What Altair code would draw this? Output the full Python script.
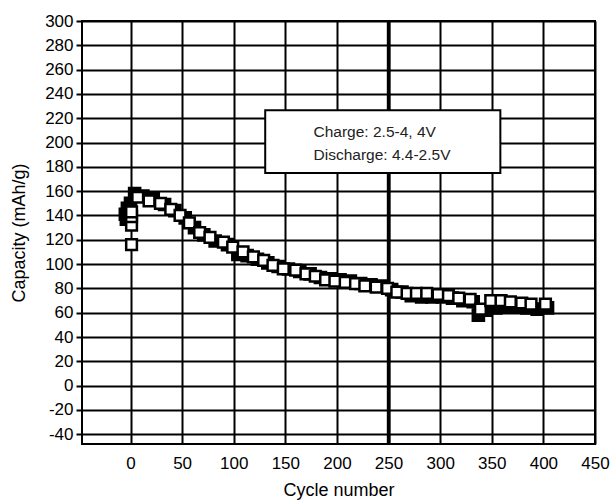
import altair as alt
import pandas as pd

# Series A (white squares)
a_cycle = [1, 1, 1, 1, 7, 18, 29, 39, 48, 57, 67, 77, 90, 99, 109, 119, 129, 138, 148, 160,
           170, 179, 189, 198, 208, 218, 227, 238, 249, 258, 268, 277, 287, 298, 308, 318,
           329, 339, 349, 359, 368, 379, 388, 402]
a_cap = [116, 132, 139, 143, 155, 152, 150, 145, 140, 134, 126, 122, 118, 114, 110, 106, 103,
         99, 96, 95, 92, 90, 87, 86, 85, 84, 82, 81, 80, 77, 76, 76, 76, 75, 74, 72, 71, 63,
         70, 70, 69, 68, 67, 67]

# Series B (dark squares underneath)
b_cycle = [-5, -4, -3, 0, 4, 12, 22, 33, 43, 53, 62, 71, 82, 94, 104, 113, 123, 133, 143, 153,
           164, 174, 184, 194, 203, 213, 223, 233, 243, 253, 263, 272, 282, 292, 302, 312, 322,
           332, 337, 344, 354, 364, 374, 384, 394, 404]
b_cap = [141, 137, 146, 150, 158, 156, 154, 149, 144, 138, 130, 124, 119, 116, 108, 107, 104,
         101, 98, 96, 94, 92, 89, 88, 87, 86, 84, 83, 82, 79, 77, 74, 73, 73, 73, 72, 70, 69,
         58, 62, 64, 65, 65, 64, 63, 64]

x_ticks = [0, 50, 100, 150, 200, 250, 300, 350, 400, 450]
y_ticks = [-40, -20, 0, 20, 40, 60, 80, 100, 120, 140, 160, 180, 200, 220, 240, 260, 280, 300]

legend_lines = ["Charge: 2.5-4, 4V", "Discharge: 4.4-2.5V"]
legend_y = [208.8, 189.6]
legend_x = [177.3, 177.3]
box = {"x1": [130.5], "x2": [358.3], "y1": [226.6], "y2": [175.0]}
bold_x = [250]

FONT = "Liberation Sans"

dfa = pd.DataFrame({"cycle": a_cycle, "cap": a_cap})
dfb = pd.DataFrame({"cycle": b_cycle, "cap": b_cap})
dft = pd.DataFrame({"x": legend_x, "y": legend_y, "t": legend_lines})
dfbox = pd.DataFrame(box)
dfr = pd.DataFrame({"x": bold_x})

xscale = alt.Scale(domain=[-47, 450], nice=False, zero=False)
yscale = alt.Scale(domain=[-48, 300], nice=False, zero=False)

minus_fix = "datum.value < 0 ? '-' + abs(datum.value) : datum.label"

xaxis = alt.Axis(values=x_ticks, title="Cycle number", grid=True, gridColor="black",
                 gridWidth=2, gridOpacity=1, ticks=False, domain=False,
                 labelFontSize=17, labelFont=FONT, labelColor="black", labelPadding=11,
                 labelOverlap=False, labelExpr=minus_fix,
                 titleFontSize=18, titleFont=FONT, titleFontWeight="normal",
                 titleColor="black", titlePadding=10, labelFlush=False)
yaxis = alt.Axis(values=y_ticks, title="Capacity (mAh/g)", grid=True, gridColor="black",
                 gridWidth=2, gridOpacity=1, ticks=True, tickSize=6, tickWidth=2,
                 tickColor="black", domain=False,
                 labelFontSize=17, labelFont=FONT, labelColor="black", labelPadding=3,
                 labelOverlap=False, labelSeparation=0, labelExpr=minus_fix,
                 titleFontSize=18, titleFont=FONT, titleFontWeight="normal",
                 titleColor="black", titlePadding=16, labelFlush=False)


def X(field):
    return alt.X(field, scale=xscale, axis=xaxis)


def Y(field):
    return alt.Y(field, scale=yscale, axis=yaxis)


base_b = alt.Chart(dfb).mark_point(shape="square", filled=True, fill="black",
                                   stroke="black", strokeWidth=2, size=135, opacity=1).encode(
    x=X("cycle:Q"), y=Y("cap:Q"),
)

pts_a = alt.Chart(dfa).mark_point(shape="square", filled=True, fill="white",
                                  stroke="black", strokeWidth=2.5, size=115, opacity=1).encode(
    x=X("cycle:Q"), y=Y("cap:Q"),
)

rule = alt.Chart(dfr).mark_rule(color="black", strokeWidth=3.5).encode(
    x=X("x:Q")
)

shadow = alt.Chart(dfbox).mark_rect(fill="#888888", xOffset=2, yOffset=2).encode(
    x=X("x1:Q"), x2="x2:Q", y=Y("y1:Q"), y2="y2:Q",
)
boxmark = alt.Chart(dfbox).mark_rect(fill="white", stroke="black", strokeWidth=2).encode(
    x=X("x1:Q"), x2="x2:Q", y=Y("y1:Q"), y2="y2:Q",
)
texts = alt.Chart(dft).mark_text(align="left", baseline="middle", fontSize=15.5,
                                 font=FONT, color="#222222").encode(
    x=X("x:Q"), y=Y("y:Q"), text="t:N",
)

chart = alt.layer(base_b, rule, shadow, boxmark, texts, pts_a).properties(
    width=513, height=423,
    autosize=alt.AutoSizeParams(type="none"),
    padding={"left": 82, "top": 21, "right": 16, "bottom": 56},
    background="white",
).configure_view(stroke="black", strokeWidth=2).configure_axis(
    labelOverlap=False, labelSeparation=0
)

chart.save("out.html", embed_options={"renderer": "svg", "actions": False})
